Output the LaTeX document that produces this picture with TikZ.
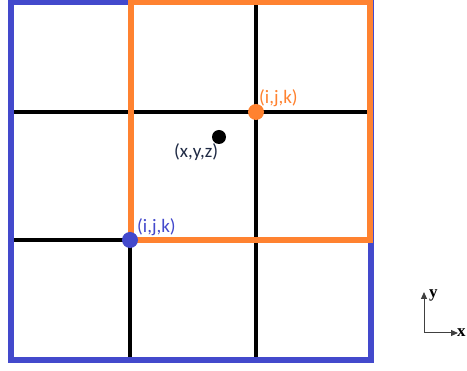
\documentclass[tikz,border=0pt]{standalone}
\usepackage{fontspec}
\setmainfont{Carlito}
\newfontfamily\axfont{Liberation Serif}
\usetikzlibrary{arrows.meta}
\definecolor{gblue}{HTML}{4349CC}
\definecolor{gorange}{HTML}{FF8230}
\definecolor{gnavy}{HTML}{1F2A44}
\tikzset{
  gridline/.style={black, line width=3.2pt},
  bluebox/.style={gblue, line width=5.5pt},
  orangebox/.style={gorange, line width=5.5pt},
  dotpt/.style={circle, inner sep=0pt, minimum size=16pt},
  lbl/.style={inner sep=0pt, font=\fontsize{19}{21}\selectfont},
  axarrow/.style={black!75, line width=1pt, -{Triangle[length=7pt,width=6pt]}},
  axlbl/.style={inner sep=0pt, font=\axfont\bfseries\fontsize{17}{18}\selectfont}
}
\begin{document}
\begin{tikzpicture}[x=1pt,y=-1pt]
\useasboundingbox (0,0) rectangle (467,371);
% grid lines
\draw[gridline] (11,112) -- (371,112);
\draw[gridline] (11,240) -- (371,240);
\draw[gridline] (130,2) -- (130,360);
\draw[gridline] (256,2) -- (256,360);
% boxes
\draw[bluebox] (11,2) rectangle (371,360);
\draw[orangebox] (131,2) rectangle (370,240);
% points
\node[dotpt, fill=gorange] (po) at (256,112) {};
\node[dotpt, fill=gblue] (pb) at (130,240) {};
\node[dotpt, fill=black, minimum size=14pt] (px) at (219,137) {};
\node[lbl, text=gorange, anchor=base west] (lo) at (259,104) {(i,j,k)};
\node[lbl, text=gblue, anchor=base west] (lb) at (137,233) {(i,j,k)};
\node[lbl, text=gnavy, anchor=base west] (lx) at (174,158) {(x,y,z)};
% axes
\coordinate (o) at (424,333);
\coordinate (ye) at (424,292);
\coordinate (xe) at (458,333);
\draw[axarrow] (o) -- (ye);
\draw[axarrow] (o) -- (xe);
\node[axlbl, anchor=base west] (ly) at (429,298) {y};
\node[axlbl, anchor=base west] (lx2) at (457,337) {x};
\end{tikzpicture}
\end{document}
